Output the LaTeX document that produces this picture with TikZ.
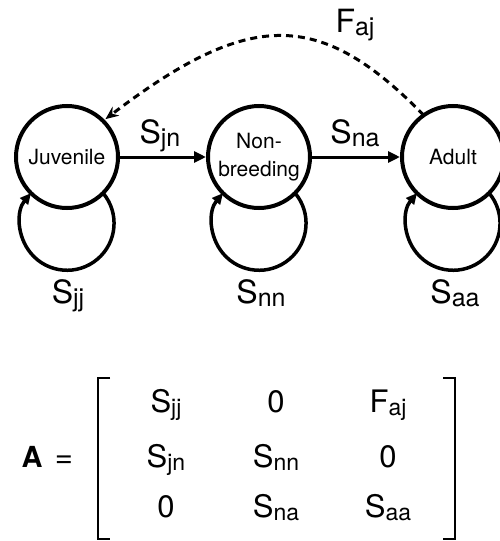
\documentclass[tikz,border=0pt]{standalone}
\usepackage{fontspec}
\setmainfont{TeX Gyre Heros}
\usetikzlibrary{arrows.meta}
\newcommand\sbs[1]{\raisebox{-3.5pt}{\fontsize{25}{25}\selectfont #1}}
\newcommand\msbs[1]{\raisebox{-3pt}{\fontsize{23}{23}\selectfont #1}}
\begin{document}
\begin{tikzpicture}[x=1pt,y=1pt,
  stage/.style={circle,draw,line width=4pt,minimum size=102pt,inner sep=0pt,outer sep=0pt,
    font=\fontsize{21}{28}\selectfont,align=center},
  flow/.style={line width=3pt,-{Triangle[length=12pt,width=11pt]},shorten >=2pt,shorten <=2pt},
  selfloop/.style={line width=3.5pt,-{Triangle[length=11pt,width=10pt]}},
  repro/.style={line width=3pt,dash pattern=on 7pt off 5pt,-{Stealth[length=13pt,width=11pt]},shorten >=3pt},
  lbl/.style={font=\fontsize{32}{32}\selectfont,inner sep=0pt,anchor=base},
  bracket/.style={line width=2pt},
  mat/.style={font=\fontsize{31}{31}\selectfont,inner sep=0pt,anchor=base}]
\useasboundingbox (0,0) rectangle (499,-541);
% stages
\node[stage] (j) at (67,-157) {Juvenile};
\node[stage] (n) at (259,-157) {Non-\\breeding};
\node[stage] (a) at (453,-157) {Adult};
% transitions
\draw[flow] (j) -- (n);
\draw[flow] (n) -- (a);
\draw[repro] (a.125) .. controls (320,-9) and (250,-9) .. (j.45);
% self loops
\draw[selfloop] (j.-45) arc[start angle=40,end angle=-220,radius=47];
\draw[selfloop] (n.-45) arc[start angle=40,end angle=-220,radius=47];
\draw[selfloop] (a.-45) arc[start angle=40,end angle=-220,radius=47];
% labels
\node[lbl] (ljn) at (160,-143) {S\sbs{jn}};
\node[lbl] (lna) at (355,-143) {S\sbs{na}};
\node[lbl] (laj) at (355,-32) {F\sbs{aj}};
\node[lbl] (ljj) at (68,-303) {S\sbs{jj}};
\node[lbl] (lnn) at (261,-303) {S\sbs{nn}};
\node[lbl] (laa) at (455,-303) {S\sbs{aa}};
% matrix
\node[font=\fontsize{29}{29}\selectfont\bfseries,inner sep=0pt,anchor=base] (A) at (32,-467) {A};
\node[mat] (eq) at (64,-467) {=};
\draw[bracket] (110,-378) -- (98,-378) -- (98,-539) -- (110,-539);
\draw[bracket] (443,-378) -- (455,-378) -- (455,-539) -- (443,-539);
\node[mat] (m11) at (166,-412) {S\msbs{jj}};
\node[mat] (m12) at (276,-412) {0};
\node[mat] (m13) at (388,-412) {F\msbs{aj}};
\node[mat] (m21) at (166,-467) {S\msbs{jn}};
\node[mat] (m22) at (276,-467) {S\msbs{nn}};
\node[mat] (m23) at (388,-467) {0};
\node[mat] (m31) at (166,-517) {0};
\node[mat] (m32) at (276,-517) {S\msbs{na}};
\node[mat] (m33) at (388,-517) {S\msbs{aa}};
\end{tikzpicture}
\end{document}
